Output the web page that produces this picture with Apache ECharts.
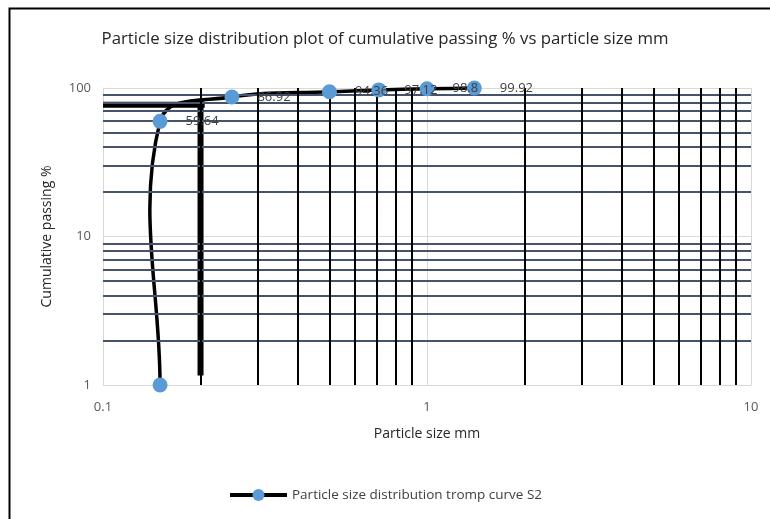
<!DOCTYPE html>
<html>
<head>
<meta charset="utf-8">
<script src="https://cdn.jsdelivr.net/npm/echarts@6/dist/echarts.min.js"></script>
<style>
  html, body { margin: 0; padding: 0; background: #fff; }
  #chart { width: 770px; height: 519px; }
</style>
</head>
<body>
<div id="chart"></div>
<script>
// Sieve results: particle size (mm) and cumulative passing (%)
var sizeMm = [0.15, 0.15, 0.25, 0.5, 0.71, 1, 1.4];
var passingPct = [1, 59.64, 86.92, 94.36, 97.12, 98.8, 99.92];
var showLabel = [false, true, true, true, true, true, true];

// Cut-size guide lines (thick black)
var cutH = [[0.1, 77], [0.206, 77]];
var cutV = [[0.2, 83], [0.2, 1.16]];

// Minor grid positions on the log axes
var minorX = [0.2, 0.3, 0.4, 0.5, 0.6, 0.7, 0.8, 0.9, 2, 3, 4, 5, 6, 7, 8, 9];
var minorY = [2, 3, 4, 5, 6, 7, 8, 9, 20, 30, 40, 50, 60, 70, 80, 90];

var xTickLabels = ['0.1', '1', '10'];
var yTickLabels = ['1', '10', '100'];

var SERIES_NAME = 'Particle size distribution tromp curve S2';
var FONT = 'Open Sans';
var TENSION = 0.36;

var chart = echarts.init(document.getElementById('chart'), null, { renderer: 'canvas' });

var pointData = sizeMm.map(function (x, i) {
  return { value: [x, passingPct[i]], label: { show: showLabel[i] } };
});

// Smoothed curve through all points, built in pixel space from axis coordinates.
// Tangent at each point follows (next - prev); handle lengths scale with the
// adjacent segment lengths.
function smoothPath(pts) {
  var n = pts.length;
  var tan = pts.map(function (p, i) {
    var a = pts[Math.max(i - 1, 0)], b = pts[Math.min(i + 1, n - 1)];
    var dx = b[0] - a[0], dy = b[1] - a[1];
    var l = Math.sqrt(dx * dx + dy * dy) || 1;
    return [dx / l, dy / l];
  });
  var d = 'M' + pts[0][0] + ',' + pts[0][1];
  for (var i = 0; i < n - 1; i++) {
    var p = pts[i], q = pts[i + 1];
    var sx = q[0] - p[0], sy = q[1] - p[1];
    var len = Math.sqrt(sx * sx + sy * sy);
    var c1 = [p[0] + tan[i][0] * TENSION * len, p[1] + tan[i][1] * TENSION * len];
    var c2 = [q[0] - tan[i + 1][0] * TENSION * len, q[1] - tan[i + 1][1] * TENSION * len];
    d += 'C' + c1[0] + ',' + c1[1] + ',' + c2[0] + ',' + c2[1] + ',' + q[0] + ',' + q[1];
  }
  return d;
}

chart.setOption({
  backgroundColor: '#ffffff',
  animation: false,
  title: {
    text: 'Particle size distribution plot of cumulative passing % vs particle size mm',
    left: 'center',
    top: 26,
    textStyle: { fontFamily: FONT, fontSize: 16.8, fontWeight: 'normal', color: '#262626' }
  },
  graphic: [{
    type: 'rect',
    left: 7, top: 6,
    shape: { width: 800, height: 600 },
    style: { fill: 'none', stroke: '#000', lineWidth: 2 },
    silent: true
  }],
  legend: {
    data: [SERIES_NAME],
    left: 'center',
    top: 483,
    itemWidth: 57,
    itemHeight: 15,
    itemGap: 5,
    lineStyle: { color: '#000', width: 4, opacity: 1 },
    textStyle: { fontFamily: FONT, fontSize: 13.5, color: '#404040' }
  },
  grid: { left: 103, right: 19, top: 88, bottom: 134 },
  xAxis: {
    type: 'log',
    logBase: 10,
    min: 0.1,
    max: 10,
    name: 'Particle size mm',
    nameLocation: 'middle',
    nameGap: 42,
    nameTextStyle: { fontFamily: FONT, fontSize: 14, color: '#262626' },
    axisLine: { show: true, lineStyle: { color: '#d9d9d9', width: 1 } },
    axisTick: { show: false },
    axisLabel: {
      margin: 16,
      fontFamily: FONT, fontSize: 13, color: '#595959',
      formatter: function (v) {
        var s = String(+v.toPrecision(6));
        return xTickLabels.indexOf(s) >= 0 ? s : '';
      }
    },
    splitLine: { show: true, lineStyle: { color: '#d9d9d9', width: 1 } }
  },
  yAxis: {
    type: 'log',
    logBase: 10,
    min: 1,
    max: 100,
    name: 'Cumulative passing %',
    nameLocation: 'middle',
    nameGap: 49,
    nameTextStyle: { fontFamily: FONT, fontSize: 14, color: '#262626' },
    axisLine: { show: true, lineStyle: { color: '#d9d9d9', width: 1 } },
    axisTick: { show: false },
    axisLabel: {
      margin: 12,
      fontFamily: FONT, fontSize: 13, color: '#595959',
      formatter: function (v) {
        var s = String(+v.toPrecision(6));
        return yTickLabels.indexOf(s) >= 0 ? s : '';
      }
    },
    splitLine: { show: true, lineStyle: { color: '#d9d9d9', width: 1 } }
  },
  series: [
    {
      // horizontal minor grid
      type: 'line',
      data: [],
      silent: true,
      z: 1,
      markLine: {
        silent: true,
        symbol: ['none', 'none'],
        label: { show: false },
        lineStyle: { color: '#44546a', width: 2, type: 'solid' },
        data: minorY.map(function (v) { return { yAxis: v }; })
      }
    },
    {
      // vertical minor grid
      type: 'line',
      data: [],
      silent: true,
      z: 2,
      markLine: {
        silent: true,
        symbol: ['none', 'none'],
        label: { show: false },
        lineStyle: { color: '#000000', width: 2, type: 'solid' },
        data: minorX.map(function (v) { return { xAxis: v }; })
      }
    },
    {
      type: 'line',
      data: cutH,
      silent: true,
      z: 3,
      symbol: 'none',
      lineStyle: { color: '#000', width: 6 }
    },
    {
      type: 'line',
      data: cutV,
      silent: true,
      z: 3,
      symbol: 'none',
      lineStyle: { color: '#000', width: 6 }
    },
    {
      // smoothed curve
      type: 'custom',
      silent: true,
      z: 4,
      data: sizeMm.map(function (x, i) { return [x, passingPct[i]]; }),
      renderItem: function (params, api) {
        if (params.dataIndex !== 0) return null;
        var pts = sizeMm.map(function (x, i) { return api.coord([x, passingPct[i]]); });
        return {
          type: 'path',
          shape: { pathData: smoothPath(pts) },
          style: { fill: 'none', stroke: '#000', lineWidth: 3.5, lineJoin: 'round', lineCap: 'round' }
        };
      }
    },
    {
      name: SERIES_NAME,
      type: 'line',
      data: pointData,
      z: 5,
      symbol: 'circle',
      symbolSize: 15,
      itemStyle: { color: '#5b9bd5' },
      lineStyle: { color: '#000', width: 0, opacity: 0 },
      label: {
        position: 'right',
        distance: 18,
        fontFamily: FONT, fontSize: 13, color: '#404040',
        formatter: function (p) { return p.value[1]; }
      }
    }
  ]
});
</script>
</body>
</html>
